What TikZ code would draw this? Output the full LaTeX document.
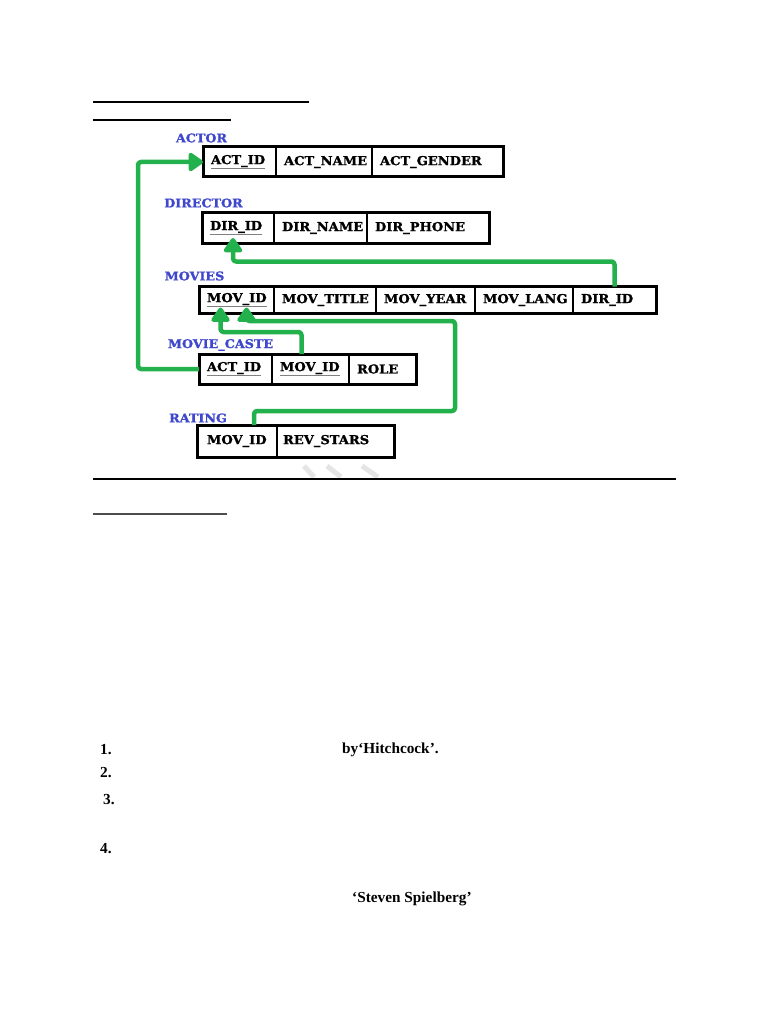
\documentclass[tikz,border=0pt]{standalone}
\usepackage{fontspec}
\setmainfont{Liberation Serif}
\newfontfamily\tabfont[FakeStretch=1.06, BoldFeatures={FakeBold=1.2}]{DejaVu Serif}
\usetikzlibrary{arrows.meta, positioning, fit}
\definecolor{fkgreen}{RGB}{34, 177, 76}
\definecolor{lblblue}{RGB}{63, 72, 204}
\newcommand{\keyfld}[1]{{\color{gray}\underline{\color{black}#1}}}
\tikzset{
  cell/.style={draw, line width=1.8pt, outer sep=0pt, inner xsep=8pt, inner ysep=0pt,
    minimum height=30pt, text width=#1, align=left, anchor=west,
    font=\tabfont\bfseries\fontsize{12.3}{14}\selectfont},
  tabframe/.style={draw, line width=3pt, inner sep=0pt},
  lbl/.style={text=lblblue, inner sep=0pt, font=\tabfont\bfseries\fontsize{12}{14}\selectfont},
  fk/.style={draw=fkgreen, line width=4.5pt, rounded corners=3pt, line join=round,
    -{Triangle[width=21pt, length=16pt, round]}},
  qtext/.style={anchor=west, inner sep=0pt, font=\bfseries\fontsize{15.3}{18}\selectfont}
}
\begin{document}
\begin{tikzpicture}[x=1pt, y=-1pt]
  \useasboundingbox (0,0) rectangle (768,1024);
  \fill[white] (0,0) rectangle (768,1024);

  % Heading rules
  \draw[line width=2.2pt] (93,102) -- (309,102);
  \draw[line width=2.2pt] (93,120) -- (231,120);

  % ACTOR
  \node[lbl] (actorlbl) at (201.5,138) {ACTOR};
  \node[cell=57pt] (actid) at (203,162) {\keyfld{ACT\_ID}};
  \node[cell=80pt, right=0pt of actid] (actname) {ACT\_NAME};
  \node[cell=115pt, right=0pt of actname] (actgender) {ACT\_GENDER};
  \node[tabframe, fit=(actid)(actgender)] (actortab) {};

  % DIRECTOR
  \node[lbl] (dirlbl) at (203.5,203) {DIRECTOR};
  \node[cell=56pt] (dirid) at (202,228) {\keyfld{DIR\_ID}};
  \node[cell=77pt, right=0pt of dirid] (dirname) {DIR\_NAME};
  \node[cell=106pt, right=0pt of dirname] (dirphone) {DIR\_PHONE};
  \node[tabframe, fit=(dirid)(dirphone)] (dirtab) {};

  % MOVIES
  \node[lbl] (movlbl) at (194.5,276) {MOVIES};
  \node[cell=59pt, minimum height=27pt] (movid) at (199,300) {\keyfld{MOV\_ID}};
  \node[cell=86pt, minimum height=27pt, right=0pt of movid] (movtitle) {MOV\_TITLE};
  \node[cell=83pt, minimum height=27pt, right=0pt of movtitle] (movyear) {MOV\_YEAR};
  \node[cell=82pt, minimum height=27pt, right=0pt of movyear] (movlang) {MOV\_LANG};
  \node[cell=67pt, minimum height=27pt, right=0pt of movlang] (movdir) {DIR\_ID};
  \node[tabframe, fit=(movid)(movdir)] (movtab) {};

  % MOVIE_CASTE
  \node[lbl] (mclbl) at (220.5,345) {MOVIE\_CASTE};
  \node[cell=57pt] (mcact) at (199,369) {\keyfld{ACT\_ID}};
  \node[cell=61pt, right=0pt of mcact] (mcmov) {\keyfld{MOV\_ID}};
  \node[cell=51pt, right=0pt of mcmov] (mcrole) {ROLE};
  \node[tabframe, fit=(mcact)(mcrole)] (mctab) {};

  % RATING
  \node[lbl] (ratlbl) at (198,418) {RATING};
  \node[cell=60pt, minimum height=32pt, inner xsep=10pt] (ratmov) at (197,441) {MOV\_ID};
  \node[cell=105pt, minimum height=32pt, inner xsep=6pt, right=0pt of ratmov] (ratstars) {REV\_STARS};
  \node[tabframe, fit=(ratmov)(ratstars)] (rattab) {};

  % Foreign keys
  \draw[fk] (mcact.west) -- ++(-61,0) |- (actid.west);
  \draw[fk] (movdir.north) -- ++(0,-25) -| ([shift={(-5pt,5pt)}]dirid.south);
  \draw[fk] ([xshift=-9pt]mcmov.north) -- ++(0,-22) -| ([shift={(-16pt,6pt)}]movid.south);
  \coordinate (ratbend) at (455,411);
  \coordinate (ratturn) at (455,321);
  \draw[fk] ([xshift=17pt]ratmov.north) |- (ratbend) -- (ratturn) -| ([shift={(10pt,6pt)}]movid.south);

  % Watermark traces
  \draw[gray!20, line width=5pt] (304,466) -- (314,477);
  \draw[gray!20, line width=5pt] (327,466) -- (341,477);
  \draw[gray!20, line width=5pt] (362,466) -- (378,477);

  % Section rules
  \draw[line width=2.2pt] (93,479) -- (676,479);
  \draw[gray!60!black, line width=1.6pt] (93,514) -- (227,514);

  % Queries
  \node[qtext] (q1) at (100,750) {1.};
  \node[qtext] (q1txt) at (342,750) {by‘Hitchcock’.};
  \node[qtext] (q2) at (100,773) {2.};
  \node[qtext] (q3) at (103,800) {3.};
  \node[qtext] (q4) at (100,849) {4.};
  \node[qtext] (q4txt) at (352,899) {‘Steven Spielberg’};
\end{tikzpicture}
\end{document}
